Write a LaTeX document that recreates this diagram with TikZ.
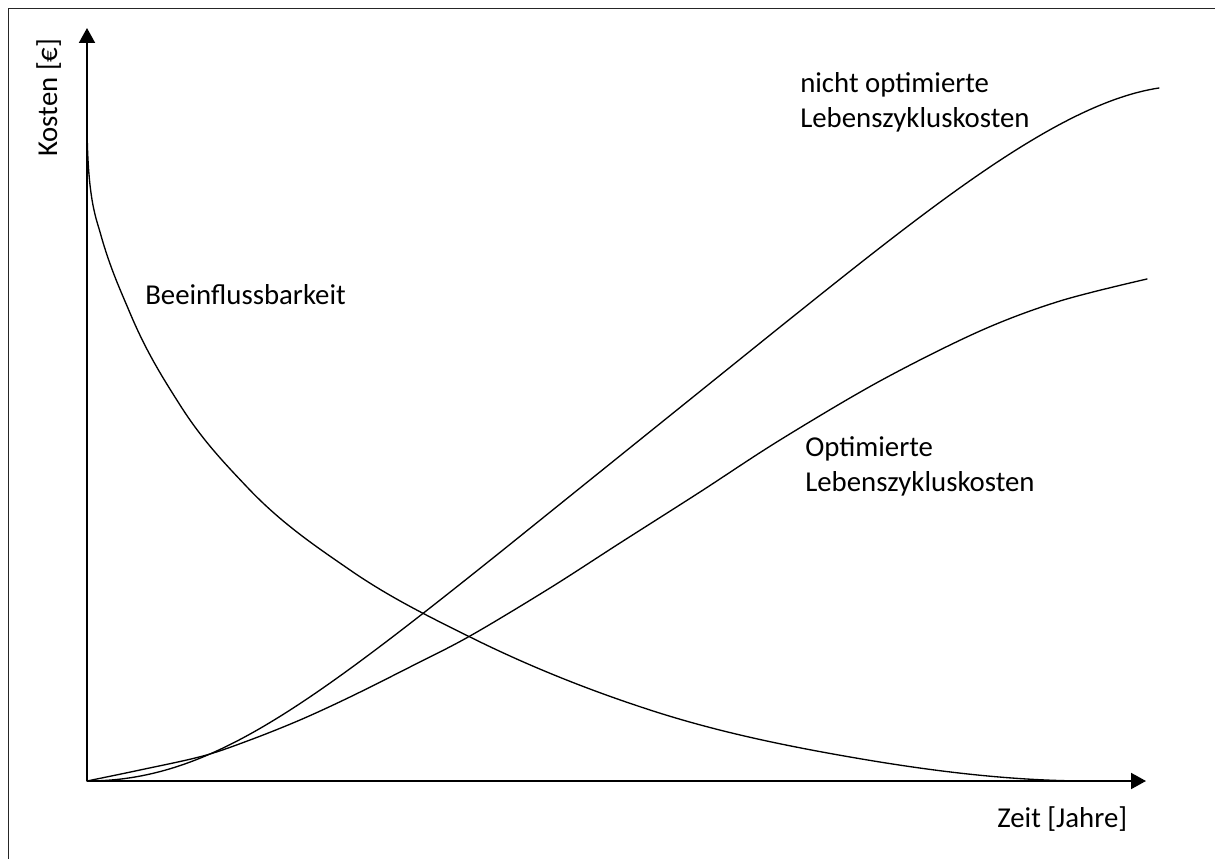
\documentclass[tikz,border=0pt]{standalone}
\usepackage{fontspec}
\setmainfont{Carlito}
\usetikzlibrary{arrows.meta}
\begin{document}
\begin{tikzpicture}[x=0.75pt,y=-0.75pt,
  frame/.style={line width=0.75pt, draw=black!85},
  axis/.style={line width=1.5pt, -{Triangle[length=11.25pt,width=12pt]}},
  curve/.style={line width=1pt, line join=round, line cap=round},
  lbl/.style={font=\fontsize{21.6}{25.9}\selectfont, inner sep=0pt, anchor=base west}]
\useasboundingbox (0,0) rectangle (1215,859);
% frame
\coordinate (fl) at (8,859);
\coordinate (fc) at (8,9);
\coordinate (fr) at (1215,9);
\draw[frame] (fl) -- (fc) -- (fr);
% axes
\coordinate (O) at (87,781);
\coordinate (ytop) at (87,28);
\coordinate (xend) at (1146,781);
\draw[axis] (O) -- (ytop);
\draw[axis] (O) -- (xend);
% Beeinflussbarkeit
\coordinate (b0) at (87,118);
\coordinate (b1) at (100,232);
\coordinate (b2) at (130,313);
\coordinate (b3) at (180,405);
\coordinate (b4) at (247,487);
\coordinate (b5) at (350,570);
\coordinate (b6) at (470,637);
\coordinate (b7) at (650,710);
\coordinate (b8) at (850,757);
\coordinate (b9) at (1090,781);
\draw[curve] (b0)
  .. controls (87,198) and (96,217.6) .. (b1)
  .. controls (110,268) and (120,289.2) .. (b2)
  .. controls (146.67,352.67) and (163.33,378.72) .. (b3)
  .. controls (202.33,440.22) and (224.67,463.35) .. (b4)
  .. controls (281.33,523.36) and (315.67,546.28) .. (b5)
  .. controls (390,597.64) and (430,617.12) .. (b6)
  .. controls (530,666.82) and (590,690.5) .. (b7)
  .. controls (716.67,731.67) and (783.33,745.4) .. (b8)
  .. controls (930,770.92) and (1010,781) .. (b9);
% nicht optimierte
\coordinate (n0) at (87,781);
\coordinate (n1) at (503,550);
\coordinate (n2) at (780,327);
\coordinate (n3) at (1159,88);
\draw[curve] (n0) .. controls (207,781) and (303,710) .. (n1)
  -- (n2) .. controls (930,207) and (1059,103) .. (n3);
% optimierte
\draw[curve] plot[smooth, tension=0.55] coordinates {
 (87,781) (140,770) (203,756) (250,740) (300,720) (350,697) (410,667)
 (470,636) (550,588) (620,543) (700,492) (780,440) (880,381) (980,331)
 (1060,301) (1147,279)};
% labels
\node[lbl, rotate=90] (ylab) at (57,157) {Kosten [€]};
\node[lbl] (xlab) at (997,827) {Zeit [Jahre]};
\node[lbl] (bee) at (145,305) {Beeinflussbarkeit};
\node[lbl] (nopt1) at (800,93) {nicht optimierte};
\node[lbl] (nopt2) at (800,127.5) {Lebenszykluskosten};
\node[lbl] (opt1) at (805,457) {Optimierte};
\node[lbl] (opt2) at (805,491.5) {Lebenszykluskosten};
\end{tikzpicture}
\end{document}
